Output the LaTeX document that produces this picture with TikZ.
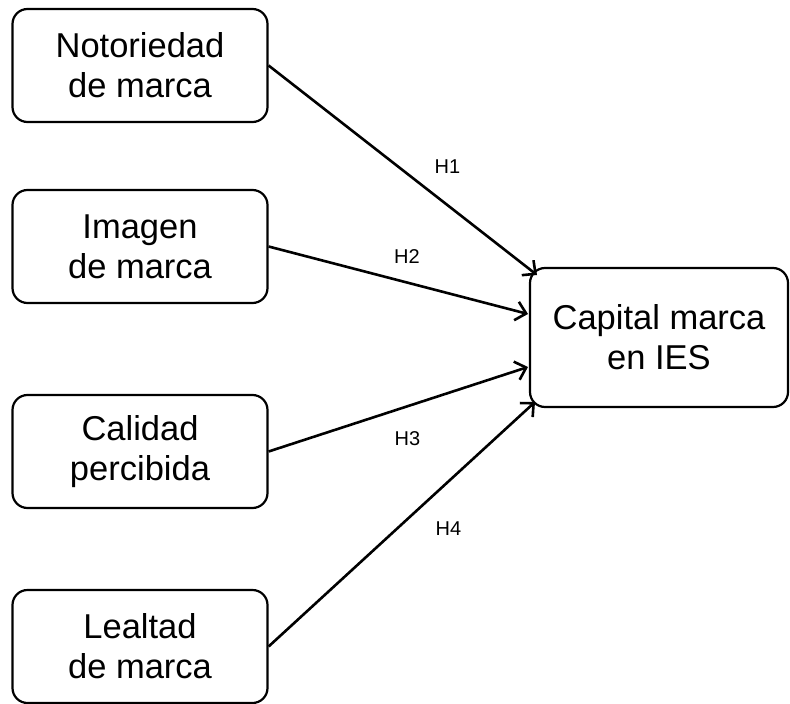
\documentclass[tikz,border=0pt]{standalone}
\usepackage{fontspec}
\setmainfont{Liberation Sans}
\usetikzlibrary{arrows.meta}
\begin{document}
\begin{tikzpicture}[x=1pt,y=-1pt,
  factor/.style={draw=black, line width=2.2pt, rounded corners=15pt,
    minimum width=255pt, minimum height=113pt, inner sep=0pt,
    align=center, font=\fontsize{34.5}{40}\selectfont},
  target/.style={factor, minimum width=258pt, minimum height=139pt},
  link/.style={draw=black, line width=2.6pt,
    -{Straight Barb[length=10pt,width=19pt,line width=2.6pt]}},
  hyp/.style={font=\fontsize{20}{24}\selectfont, inner sep=0pt}]
\useasboundingbox (0,0) rectangle (790,704);

\node[factor] (noto) at (140,65.5) {Notoriedad\\de marca};
\node[factor] (imag) at (140,246.5) {Imagen\\de marca};
\node[factor] (cali) at (140,451.5) {Calidad\\percibida};
\node[factor] (leal) at (140,646.5) {Lealtad\\de marca};

\node[target] (cap) at (659,337.5) {Capital marca\\en IES};

% entry points on the left side of the target box
\coordinate (e1) at (537,275);
\coordinate (e2) at (528,314);
\coordinate (e3) at (528,367);
\coordinate (e4) at (535,402);

\draw[link] (noto.east) -- (e1);
\draw[link] (imag.east) -- (e2);
\draw[link] (cali.east) -- (e3);
\draw[link] (leal.east) -- (e4);

\node[hyp] (h1) at (447.5,166.5) {H1};
\node[hyp] (h2) at (407,256.5) {H2};
\node[hyp] (h3) at (407.5,438.5) {H3};
\node[hyp] (h4) at (448.5,528.5) {H4};
\end{tikzpicture}
\end{document}
